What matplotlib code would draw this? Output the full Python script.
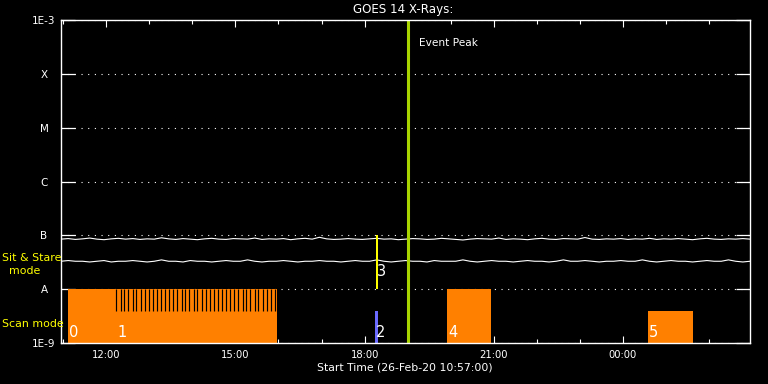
import matplotlib
matplotlib.use("Agg")
import matplotlib.pyplot as plt
import matplotlib.dates as mdates
from matplotlib.ticker import NullLocator, FixedLocator
from datetime import datetime, timedelta

# ---------------- data ----------------
t_start = datetime(2020, 2, 26, 10, 57)
t_end = datetime(2020, 2, 27, 2, 57)
cadence_min = 10

# GOES 14 flux (W/m^2) (x1e-8)
flux_long = [8.5, 8.7, 8.4, 8.6, 8.9, 8.5, 8.3, 8.6, 8.8, 8.5,
             8.7, 8.4, 8.6, 8.5, 9.0, 8.6, 8.4, 8.7, 8.5, 8.3,
             8.6, 8.8, 8.5, 8.4, 8.7, 8.6, 8.5, 8.9, 8.4, 8.6,
             8.5, 8.7, 8.3, 8.6, 8.8, 8.5, 9.2, 8.6, 8.4, 8.5,
             8.7, 8.5, 8.4, 8.6, 8.8, 8.5, 8.6, 8.3, 8.5, 8.7,
             8.6, 8.4, 8.5, 8.8, 8.6, 8.4, 8.2, 8.5, 8.7, 8.6,
             8.5, 8.9, 8.4, 8.6, 8.5, 8.3, 8.6, 8.8, 8.5, 8.4,
             8.7, 8.6, 8.5, 9.1, 8.5, 8.4, 8.6, 8.5, 8.7, 8.4,
             8.6, 8.5, 8.8, 8.4, 8.6, 8.5, 8.7, 8.5, 8.3, 8.6,
             8.8, 8.5, 8.4, 8.6, 8.5, 8.7, 8.5]
flux_short = [3.3, 3.4, 3.3, 3.3, 3.2, 3.3, 3.4, 3.2, 3.3, 3.3,
              3.4, 3.3, 3.2, 3.3, 3.5, 3.3, 3.3, 3.2, 3.4, 3.3,
              3.3, 3.2, 3.3, 3.4, 3.3, 3.3, 3.5, 3.3, 3.2, 3.3,
              3.3, 3.4, 3.3, 3.2, 3.3, 3.3, 3.4, 3.3, 3.3, 3.2,
              3.3, 3.4, 3.3, 3.3, 3.5, 3.3, 3.2, 3.3, 3.4, 3.3,
              3.3, 3.2, 3.4, 3.3, 3.3, 3.3, 3.5, 3.3, 3.2, 3.3,
              3.4, 3.3, 3.3, 3.2, 3.3, 3.4, 3.3, 3.3, 3.2, 3.3,
              3.5, 3.3, 3.3, 3.4, 3.3, 3.2, 3.3, 3.3, 3.4, 3.3,
              3.3, 3.5, 3.3, 3.2, 3.3, 3.4, 3.3, 3.3, 3.2, 3.3,
              3.4, 3.3, 3.3, 3.5, 3.3, 3.2, 3.3]

# observation events (HH:MM on start day; >24h = next day)
event_ids = ["0", "2", "3", "4", "5"]
event_start = ["11:07", "18:14", "18:16", "19:55", "24:35"]
event_end = ["15:58", "18:18", "18:19", "20:56", "25:38"]
event_low = [1e-9, 1e-9, 1e-8, 1e-9, 1e-9]
event_high = [1e-8, 4e-9, 1e-7, 1e-8, 4e-9]
event_kind = ["scan", "scan2", "sitstare", "scan", "scan"]

# event 1: series of individual scan times (minutes of day)
scan1_minutes = [734, 740, 745, 751, 757, 762, 768, 774, 779, 785,
                 791, 796, 802, 808, 813, 819, 825, 830, 836, 842,
                 847, 853, 859, 864, 870, 876, 881, 887, 893, 898,
                 904, 910, 915, 921, 927, 932, 938, 944, 949, 955]
scan1_low, scan1_high = 4e-9, 1e-8

peak_time = "19:01"

ytick_vals = [1e-9, 1e-8, 1e-7, 1e-6, 1e-5, 1e-4, 1e-3]
ytick_labels = ["1E-9", "A", "B", "C", "M", "X", "1E-3"]

# ---------------- helpers ----------------
day0 = datetime(2020, 2, 26)


def hm(s):
    h, m = s.split(":")
    return day0 + timedelta(hours=int(h), minutes=int(m))


times = [t_start + timedelta(minutes=cadence_min * i) for i in range(len(flux_long))]

# ---------------- styles ----------------
ORANGE = "#FF8000"
BLUE = "#6A6AFF"
YELLOW = "#FFFF00"
PEAK = "#A8D400"
kind_color = {"scan": ORANGE, "scan2": BLUE, "sitstare": YELLOW}

plt.rcParams["font.family"] = ["DejaVu Sans"]

fig = plt.figure(figsize=(7.68, 3.84), dpi=100, facecolor="black")
W, H = 768, 384
ax = fig.add_axes([61 / W, (H - 343) / H, 689 / W, 323 / H], facecolor="black")

ax.set_yscale("log")
ax.set_ylim(1e-9, 1e-3)
ax.set_xlim(t_start, t_end)

# grid
ax.grid(axis="y", which="major", color="white", linestyle=(0, (1, 5)), linewidth=0.8, zorder=0)

# flux lines
ax.plot(times, [v * 1e-8 for v in flux_long], color="white", lw=0.8, zorder=2)
ax.plot(times, [v * 1e-8 for v in flux_short], color="white", lw=0.8, zorder=2)

# events
for eid, s, e, lo, hi, kind in zip(event_ids, event_start, event_end, event_low, event_high, event_kind):
    x0 = mdates.date2num(hm(s))
    x1 = mdates.date2num(hm(e))
    ax.bar(x0, hi - lo, width=x1 - x0, bottom=lo, align="edge",
           color=kind_color[kind], linewidth=0, zorder=3)
    if kind == "sitstare":
        ly = 2.15e-8
    else:
        ly = 1.57e-9
    ax.annotate(eid, xy=(x0, ly), xytext=(0.8, 0), textcoords="offset points",
                color="white", fontsize=10.5, ha="left", va="center", zorder=6)

# event 1 stripes
stripe_times = [day0 + timedelta(minutes=m) for m in scan1_minutes]
ax.vlines(stripe_times, scan1_low, scan1_high, color="black", lw=0.85, zorder=4)
ax.annotate("1", xy=(mdates.date2num(stripe_times[0]), 1.57e-9),
            xytext=(1.2, 0), textcoords="offset points",
            color="white", fontsize=10.5, ha="left", va="center", zorder=6)

# event peak
ax.axvline(hm(peak_time), color=PEAK, lw=2.2, zorder=5)
ax.annotate("Event Peak", xy=(mdates.date2num(hm(peak_time)), 10 ** (-3 - 23 / 53.8)),
            xytext=(7.5, 0), textcoords="offset points",
            color="white", fontsize=7.6, ha="left", va="center")

# axes styling
for sp in ax.spines.values():
    sp.set_color("white")
    sp.set_linewidth(1.0)
    sp.set_zorder(7)

ax.xaxis.set_major_locator(mdates.HourLocator(byhour=range(0, 24, 3)))
ax.xaxis.set_minor_locator(mdates.HourLocator())
ax.xaxis.set_major_formatter(mdates.DateFormatter("%H:%M"))
ax.tick_params(axis="x", which="major", direction="in", length=5, width=0.8,
               colors="white", top=True, bottom=True, labelsize=7.2, pad=5)
ax.tick_params(axis="x", which="minor", direction="in", length=3, width=0.8,
               colors="white", top=True, bottom=True)

ax.yaxis.set_major_locator(FixedLocator(ytick_vals))
ax.yaxis.set_minor_locator(NullLocator())
ax.set_yticklabels(ytick_labels)
ax.tick_params(axis="y", which="major", direction="in", length=10, width=0.9,
               colors="white", left=True, right=True, labelsize=7.5, pad=12.2)
for lab in ax.get_yticklabels():
    lab.set_horizontalalignment("center")

# titles and side labels
fig.text(403 / W, 1 - 9 / H, "GOES 14 X-Rays:", color="white", fontsize=8.6,
         ha="center", va="center")
fig.text(405 / W, 1 - 368 / H, "Start Time (26-Feb-20 10:57:00)", color="white",
         fontsize=7.8, ha="center", va="center")
fig.text(2 / W, 1 - 258 / H, "Sit & Stare", color=YELLOW, fontsize=7.9, ha="left", va="center")
fig.text(25 / W, 1 - 271 / H, "mode", color=YELLOW, fontsize=7.9, ha="center", va="center")
fig.text(2 / W, 1 - 324 / H, "Scan mode", color=YELLOW, fontsize=7.9, ha="left", va="center")

fig.savefig("out.png", dpi=100, facecolor="black")
